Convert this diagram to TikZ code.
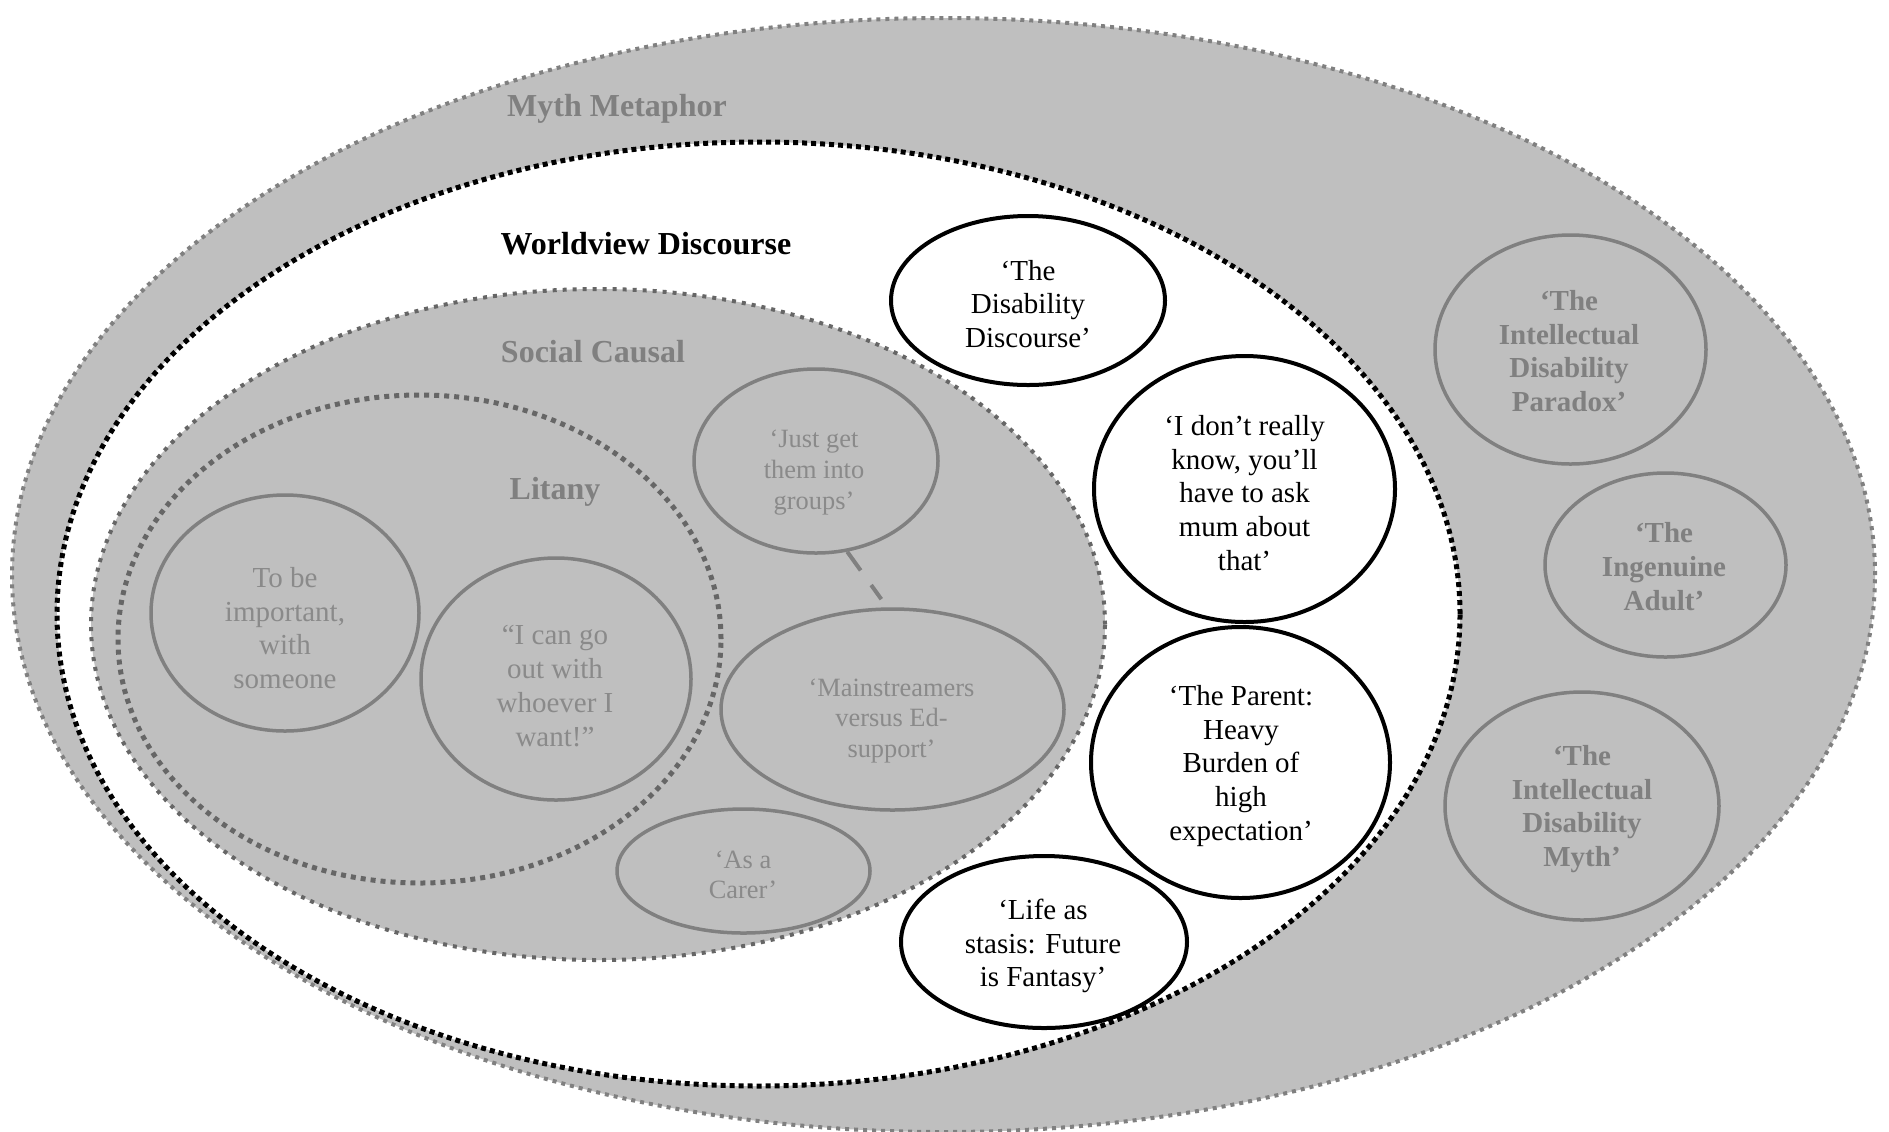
\documentclass[tikz,border=0pt]{standalone}
\usepackage{fontspec}
\setmainfont{Liberation Serif}
\usetikzlibrary{shapes.geometric}
\definecolor{bandgray}{RGB}{191,191,191}
\definecolor{rimgray}{RGB}{128,128,128}
\definecolor{dotgray}{RGB}{102,102,102}
\definecolor{softtext}{RGB}{138,138,138}
\definecolor{headgray}{RGB}{128,128,128}
\begin{document}
\begin{tikzpicture}[x=0.5pt,y=-0.5pt,
  zone/.style 2 args={ellipse, inner sep=0pt, minimum width=#1pt, minimum height=#2pt},
  greyoval/.style={draw=rimgray, line width=1.75pt},
  blackoval/.style={draw=black, line width=2pt, fill=white},
  softtxt/.style={text=softtext, align=center, inner sep=0pt, font=\fontsize{14.5}{16.9}\selectfont},
  smalltxt/.style={text=softtext, align=center, inner sep=0pt, font=\fontsize{13.2}{15.3}\selectfont},
  plaintxt/.style={text=black, align=center, inner sep=0pt, font=\fontsize{14.5}{16.9}\selectfont},
  mythtxt/.style={text=headgray, align=center, inner sep=0pt, font=\fontsize{14.5}{16.9}\selectfont\bfseries},
  heading/.style={inner sep=0pt, font=\fontsize{16}{19}\selectfont\bfseries},
  link/.style={draw=rimgray, line width=2pt, dash pattern=on 11.5pt off 9pt}
]
\useasboundingbox (0,0) rectangle (1889,1131);

% outermost layer: myth / metaphor
\node[zone={931.5}{557}, fill=bandgray, draw=rimgray, line width=2pt,
      dash pattern=on 2pt off 2.5pt] (myth) at (943.5,575) {};
\node[heading, text=headgray] (myth-t) at (617,108.5) {Myth Metaphor};

\node[zone={135.5}{114.5}, greyoval] (paradox) at (1570.5,349.5) {};
\node[mythtxt] (paradox-t) at (1569,351) {‘The\\Intellectual\\Disability\\Paradox’};
\node[zone={120.5}{92}, greyoval] (adult) at (1665.5,565) {};
\node[mythtxt] (adult-t) at (1664,566.5) {‘The\\Ingenuine\\Adult’};
\node[zone={137}{114}, greyoval] (idmyth) at (1582,806) {};
\node[mythtxt] (idmyth-t) at (1582,809) {‘The\\Intellectual\\Disability\\Myth’};

% worldview layer
\node[zone={701.5}{472}, fill=white, draw=black, line width=2.5pt,
      dash pattern=on 2.5pt off 2pt] (world) at (758.5,614) {};
\node[heading, text=black] (world-t) at (646,244) {Worldview Discourse};

% social causal layer
\node[zone={507}{335.5}, fill=bandgray, draw=dotgray, line width=2pt,
      dash pattern=on 2pt off 3pt] (social) at (598,624.5) {};
\node[heading, text=headgray] (social-t) at (593,351.5) {Social Causal};

% litany layer
\node[zone={301.5}{244}, fill=bandgray, draw=dotgray, line width=2.5pt,
      dash pattern=on 2.5pt off 2.5pt] (litany) at (419.5,639) {};
\node[heading, text=headgray] (litany-t) at (555,491.5) {Litany};

% litany themes
\node[zone={134}{118}, greyoval] (imp) at (285,613) {};
\node[softtxt] (imp-t) at (285,628) {To be\\important,\\with\\someone};
\node[zone={135}{121}, greyoval] (can) at (556,679) {};
\node[softtxt] (can-t) at (555,686) {“I can go\\out with\\whoever I\\want!”};

% social causal themes
\node[zone={122}{92}, greyoval] (jg) at (816,461) {};
\node[smalltxt] (jg-t) at (814,472.5) {‘Just get\\them into\\groups’};
\node[zone={171.5}{100.5}, greyoval] (ms) at (892.5,709.5) {};
\node[smalltxt] (ms-t) at (891.5,721) {‘Mainstreamers\\versus Ed-\\support’};
\node[zone={126.5}{62}, greyoval] (carer) at (743.5,871) {};
\node[smalltxt] (carer-t) at (743,875) {‘As a\\Carer’};
\draw[link, shorten >=5pt] (jg.-71) -- (ms.93);

% worldview themes
\node[zone={137}{84.5}, blackoval] (disc) at (1028,300.5) {};
\node[plaintxt] (disc-t) at (1028,304) {‘The\\Disability\\Discourse’};
\node[zone={150.5}{133}, blackoval] (dont) at (1244.5,489) {};
\node[plaintxt] (dont-t) at (1244.5,493) {‘I don’t really\\know, you’ll\\have to ask\\mum about\\that’};
\node[zone={149.5}{135.5}, blackoval] (parent) at (1240.5,762.5) {};
\node[plaintxt] (parent-t) at (1241,766) {‘The Parent:\\Heavy\\Burden of\\high\\expectation’};
\node[zone={143}{86}, blackoval] (life) at (1044,942) {};
\node[plaintxt] (life-t) at (1043,946) {‘Life as\\stasis: Future\\is Fantasy’};
\end{tikzpicture}
\end{document}
